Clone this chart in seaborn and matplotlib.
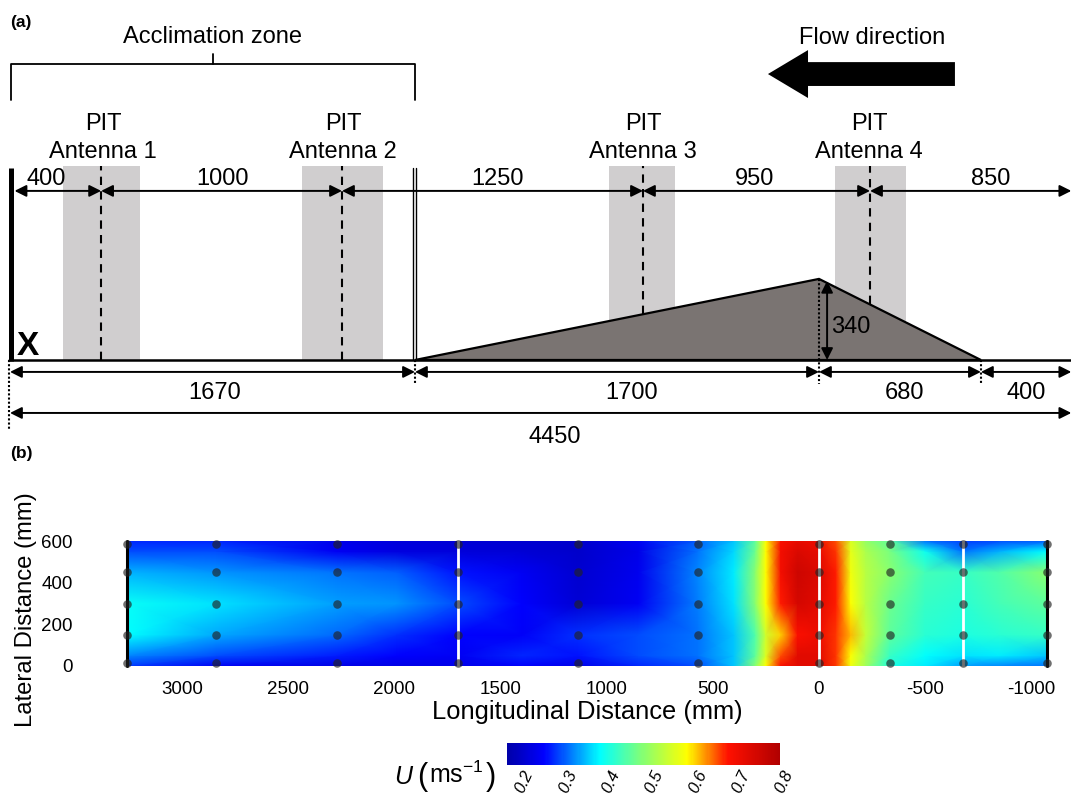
import numpy as np
import matplotlib
matplotlib.use('Agg')
import matplotlib.pyplot as plt
import seaborn as sns
from matplotlib.colors import LinearSegmentedColormap
from matplotlib.patches import FancyArrow

# panel (a), stations along the flume as drawn (mm)
wall_x = 6
station_top = [19, 382, 1392, 2654, 3606, 4450]
labels_top = ['400', '1000', '1250', '950', '850']
label_top_x = [150, 893, 2045, 3120, 4110]
antenna_x = [382, 1392, 2654, 3606]
antenna_labels = ['PIT\nAntenna 1', 'PIT\nAntenna 2', 'PIT\nAntenna 3', 'PIT\nAntenna 4']
antenna_text_x = [390, 1396, 2654, 3602]
band_left = [222, 1224, 2512, 3459]
band_right = [545, 1564, 2788, 3757]
ramp_x = [1698, 3392, 4071]
ramp_y = [0, 340, 0]
station_mid = [0, 1698, 3392, 4071, 4450]
labels_mid = ['1670', '1700', '680', '400']
label_mid_x = [860, 2606, 3752, 4262]

# panel (b), velocity
long_ticks = [3000, 2500, 2000, 1500, 1000, 500, 0, -500, -1000]
lat_ticks = [0, 200, 400, 600]
probe_x = [3260, 2840, 2270, 1700, 1135, 570, 0, -335, -680, -1075]
probe_y = [15, 150, 300, 450, 585]
white_x = [1700, 0, -680]
black_x = [3260, -1075]
cbar_ticks = [0.2, 0.3, 0.4, 0.5, 0.6, 0.7, 0.8]

field_x = [3260, 2840, 2270, 1990, 1700, 1400, 1135, 850, 570, 400, 300, 250,
           180, 100, 0, -80, -150, -220, -335, -500, -680, -850, -1075]
field_y = [0, 50, 150, 300, 450, 550, 600]
u_y0 = [.30, .26, .245, .245, .25, .27, .25, .29, .31, .37, .50, .60, .70, .74, .74, .68, .59, .52, .42, .39, .35, .34, .33]
u_y50 = [.34, .31, .285, .27, .26, .29, .28, .31, .33, .37, .47, .57, .67, .74, .74, .68, .60, .53, .44, .40, .385, .39, .37]
u_y150 = [.40, .355, .325, .295, .27, .265, .295, .31, .33, .37, .46, .56, .62, .70, .72, .68, .63, .55, .47, .43, .42, .43, .44]
u_y300 = [.405, .385, .35, .345, .31, .27, .23, .26, .335, .385, .50, .60, .69, .76, .74, .69, .60, .54, .48, .44, .43, .45, .47]
u_y450 = [.36, .345, .33, .32, .28, .26, .225, .255, .34, .39, .50, .60, .71, .77, .75, .69, .59, .54, .50, .45, .44, .46, .50]
u_y550 = [.31, .31, .26, .24, .235, .23, .22, .25, .33, .38, .48, .60, .71, .75, .73, .68, .58, .53, .49, .41, .33, .36, .40]
u_y600 = [.29, .29, .25, .235, .23, .225, .22, .26, .32, .37, .47, .60, .70, .73, .72, .67, .57, .51, .47, .33, .30, .31, .32]

sns.set_theme(style='white')
plt.rcParams['font.family'] = ['Liberation Sans', 'DejaVu Sans']
plt.rcParams['mathtext.fontset'] = 'custom'
plt.rcParams['mathtext.rm'] = 'Liberation Sans'
plt.rcParams['mathtext.it'] = 'Liberation Sans:italic'
plt.rcParams['axes.unicode_minus'] = False

W, H = 1071, 794
scale = 0.2385  # pixels per mm in the schematic
fig = plt.figure(figsize=(W / 100, H / 100), dpi=100)
fig.patch.set_facecolor('white')

ax = fig.add_axes([0, 0, 1, 1])
ax.set_xlim(-10 / scale, (W - 10) / scale)
ax.set_ylim((360 - H) / scale, 360 / scale)
ax.set_axis_off()


def dim_arrow(a, x0, y0, x1, y1):
    a.annotate('', xy=(x1, y1), xytext=(x0, y0), annotation_clip=False,
               arrowprops=dict(arrowstyle='<|-|>,head_length=0.5,head_width=0.25',
                               mutation_scale=14, lw=1.4, color='black',
                               shrinkA=0, shrinkB=0))


txt = 17
for l, r in zip(band_left, band_right):
    ax.fill_between([l, r], 0, 813, color='#d0cecf', lw=0, zorder=1)

# antenna centre lines stop on the floor or the ramp
for x in antenna_x:
    ax.plot([x, x], [np.interp(x, ramp_x, ramp_y), 813], color='black', lw=1.5,
            dashes=(4, 3), zorder=2)

ax.fill(ramp_x, ramp_y, facecolor='#7a7472', edgecolor='black', lw=1.6, zorder=3)
ax.plot([-4, station_top[-1] + 20], [0, 0], color='black', lw=1.8, zorder=4)
ax.plot([wall_x, wall_x], [-5, 805], color='black', lw=3.6, zorder=4, solid_capstyle='butt')
ax.plot([1688, 1688], [0, 805], color='black', lw=1, zorder=4)
ax.plot([1704, 1704], [0, 805], color='black', lw=1, zorder=4)

for x0, x1 in zip(station_top[:-1], station_top[1:]):
    dim_arrow(ax, x0, 709, x1, 709)
for x, t in zip(label_top_x, labels_top):
    ax.text(x, 760, t, ha='center', va='center', fontsize=txt, color='black', zorder=6)
for x, t in zip(antenna_text_x, antenna_labels):
    ax.text(x, 931, t, ha='center', va='center', fontsize=txt, color='black',
            linespacing=1.3, zorder=6)

for x0, x1 in zip(station_mid[:-1], station_mid[1:]):
    dim_arrow(ax, x0, -50, x1, -50)
for x, t in zip(label_mid_x, labels_mid):
    ax.text(x, -138, t, ha='center', va='center', fontsize=txt, color='black')
dim_arrow(ax, 0, -222, 4450, -222)
ax.text(2285, -322, '4450', ha='center', va='center', fontsize=txt, color='black')

# dotted drop lines
ax.plot([-4, -4], [0, -295], color='black', lw=1.5, dashes=(1, 1))
for x, top in zip(station_mid[1:4], [0, 340, 0]):
    ax.plot([x, x], [top, -100], color='black', lw=1.5, dashes=(1, 1), zorder=5)

dim_arrow(ax, 3426, 0, 3426, 332)
ax.text(3525, 137, '340', ha='center', va='center', fontsize=txt, color='black', zorder=6)
ax.text(75, 55, 'X', ha='center', va='center', fontsize=24, fontweight='bold',
        color='black', zorder=6)

# bracket over the acclimation zone
ax.plot([4, 4, 1698, 1698], [1090, 1241, 1241, 1090], color='black', lw=1.3)
ax.plot([851, 851], [1241, 1283], color='black', lw=1.3)
ax.text(847, 1355, 'Acclimation zone', ha='center', va='center', fontsize=txt, color='black')
ax.text(3614, 1350, 'Flow direction', ha='center', va='center', fontsize=txt, color='black')
ax.add_patch(FancyArrow(3962, 1199, -784, 0, width=100, head_width=201, head_length=168,
                        length_includes_head=True, color='black', lw=0))
ax.text(0, 1417, '(a)', ha='left', va='center', fontsize=12.5, fontweight='bold', color='black')
ax.text(0, -390, '(b)', ha='left', va='center', fontsize=12.5, fontweight='bold', color='black')

# panel (b)
jet_like = LinearSegmentedColormap.from_list('flow', [
    (0.0, '#0000a8'), (0.135, '#0000ff'), (0.34, '#00ffff'), (0.50, '#88ff70'),
    (0.66, '#ffff00'), (0.81, '#ff1000'), (1.0, '#b00000')], N=256)
u_field = np.array([u_y0, u_y50, u_y150, u_y300, u_y450, u_y550, u_y600])

ax2 = fig.add_axes([127 / W, 1 - 666 / H, 920 / W, 125 / H])
mesh = ax2.pcolormesh(field_x, field_y, u_field, shading='gouraud', cmap=jet_like,
                      vmin=0.185, vmax=0.815)
for x in white_x:
    ax2.axvline(x, color='white', lw=2)
for x in black_x:
    ax2.axvline(x, color='black', lw=2.2, clip_on=False)
px, py = np.meshgrid(probe_x, probe_y)
sns.scatterplot(x=px.ravel(), y=py.ravel(), ax=ax2, s=38, color='#222222', alpha=0.65,
                linewidth=0, clip_on=False, zorder=5, legend=False)
ax2.set_xlim(3260, -1075)
ax2.set_ylim(0, 600)
ax2.set_xticks(long_ticks)
ax2.set_yticks(lat_ticks)
ax2.tick_params(axis='x', labelsize=13.5, pad=11, length=0, labelcolor='black')
ax2.tick_params(axis='y', labelsize=13.5, pad=39, length=0, labelcolor='black')
for s in ax2.spines.values():
    s.set_visible(False)
ax2.set_xlabel('Longitudinal Distance (mm)', fontsize=18.4, color='black', labelpad=1.5)
ax2.set_ylabel('Lateral Distance (mm)', fontsize=17.2, color='black')
ax2.yaxis.set_label_coords(-0.098, 0.448)

cax = fig.add_axes([507 / W, 1 - 765 / H, 273 / W, 22 / H])
cb = fig.colorbar(mesh, cax=cax, orientation='horizontal', ticks=cbar_ticks)
cb.outline.set_visible(False)
cax.tick_params(axis='x', direction='in', length=4, width=1, color='white', top=True,
                bottom=True, labelbottom=False)
for t in cbar_ticks:
    cax.annotate(f'{t:.1f}', (t, 0), xycoords=('data', 'axes fraction'), xytext=(11, -3),
                 textcoords='offset pixels', rotation=65, ha='center', va='top',
                 fontsize=12, fontstyle='oblique', color='black')

# colourbar title, pieced together so the brackets can be taller than the letters
title_y = 1 - 777 / H
fig.text(403 / W, title_y, 'U', ha='center', va='center', fontsize=18, fontstyle='italic', color='black')
fig.text(422 / W, title_y, '(', ha='center', va='center', fontsize=22, fontweight='light', color='black')
fig.text(429 / W, title_y + 2 / H, r'ms$^{-1}$', ha='left', va='center', fontsize=18, color='black')
fig.text(491 / W, title_y, ')', ha='center', va='center', fontsize=22, fontweight='light', color='black')

fig.savefig('out.png', dpi=100)
